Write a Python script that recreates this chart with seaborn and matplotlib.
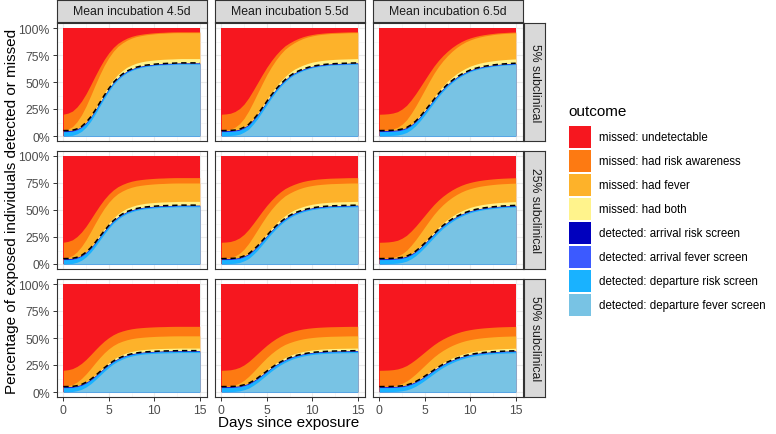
import numpy as np
import pandas as pd
import matplotlib
matplotlib.use("Agg")
import matplotlib.pyplot as plt
import seaborn as sns
from matplotlib.patches import Rectangle

sns.set_theme(style="white")
plt.rcParams["font.family"] = ["Liberation Sans", "DejaVu Sans"]

# ---------------- data ----------------
days = [i * 0.5 for i in range(31)]  # 0 .. 15 days since exposure

incubation_labels = ["Mean incubation 4.5d", "Mean incubation 5.5d", "Mean incubation 6.5d"]
subclinical_labels = ["5% subclinical", "25% subclinical", "50% subclinical"]

outcomes = [  # bottom -> top of stack
    "detected: departure fever screen",
    "detected: departure risk screen",
    "detected: arrival fever screen",
    "detected: arrival risk screen",
    "missed: had both",
    "missed: had fever",
    "missed: had risk awareness",
    "missed: undetectable",
]
colors = ["#78C3E4", "#19B2FF", "#3C5AFF", "#0000BE",
          "#FFF38C", "#FDB22A", "#FD7A12", "#F6171F"]

# share of the final rise reached by each day, detected outcomes
prog_detected_45 = [0, .001, .005, .025, .06, .12, .20, .30, .41, .52, .62, .71, .78, .835, .88, .91,
                    .935, .952, .965, .973, .98, .986, .99, .993, .995, .998, 1, 1, 1, 1, 1]
prog_detected_55 = [0, .001, .003, .008, .02, .05, .09, .16, .24, .335, .43, .525, .61, .685, .75, .805,
                    .85, .882, .91, .932, .95, .962, .972, .979, .985, .989, .992, .994, .996, .998, 1]
prog_detected_65 = [0, .001, .002, .005, .01, .023, .045, .085, .14, .21, .29, .375, .46, .545, .62, .685,
                    .74, .79, .83, .865, .895, .917, .935, .949, .96, .969, .977, .983, .988, .992, .995]
# share of the final rise reached by each day, missed outcomes
prog_missed_45 = [.003, .015, .04, .09, .16, .25, .355, .465, .57, .665, .745, .81, .86, .895, .923, .944,
                  .959, .969, .977, .983, .988, .992, .994, .997, .999, 1, 1, 1, 1, 1, 1]
prog_missed_55 = [.002, .006, .014, .035, .07, .125, .20, .29, .385, .48, .57, .65, .72, .78, .83, .866,
                  .896, .921, .941, .956, .967, .976, .982, .987, .991, .993, .995, .997, .999, 1, 1]
prog_missed_65 = [.002, .004, .008, .017, .033, .065, .11, .175, .25, .333, .418, .503, .583, .653, .713, .765,
                  .81, .848, .88, .906, .926, .942, .955, .965, .973, .98, .986, .99, .993, .996, .998]

# cumulative top (%) of each of the first 7 outcomes on day 0 (same in every panel)
top_day0 = [0.3, 4.0, 4.5, 5.0, 5.0, 5.0, 20.0]
# cumulative top (%) of each of the first 7 outcomes at the plateau, per subclinical row
top_plateau_5 = [66.5, 67.0, 67.4, 67.7, 71.7, 95.7, 96.5]
top_plateau_25 = [53.0, 53.8, 54.2, 54.5, 58.0, 75.0, 80.0]
top_plateau_50 = [36.5, 37.6, 38.0, 38.3, 40.7, 52.0, 60.8]

x_ticks = [0, 5, 10, 15]
y_ticks = [0, 25, 50, 75, 100]
y_ticklabels = ["0%", "25%", "50%", "75%", "100%"]

# ---------------- build long table ----------------
prog_det = [prog_detected_45, prog_detected_55, prog_detected_65]
prog_mis = [prog_missed_45, prog_missed_55, prog_missed_65]
plateaus = [top_plateau_5, top_plateau_25, top_plateau_50]
uses_missed_progress = [False, False, False, False, False, True, True]

rows = []
for r, sub in enumerate(subclinical_labels):
    for c, inc in enumerate(incubation_labels):
        for k in range(7):
            p = prog_mis[c] if uses_missed_progress[k] else prog_det[c]
            for i, d in enumerate(days):
                top = top_day0[k] + (plateaus[r][k] - top_day0[k]) * p[i]
                rows.append((sub, inc, outcomes[k], d, top))
        for d in days:
            rows.append((sub, inc, outcomes[7], d, 100.0))
df = pd.DataFrame(rows, columns=["subclinical", "incubation", "outcome", "day", "top"])

# ---------------- figure ----------------
W, H = 776, 435
fig = plt.figure(figsize=(W / 100, H / 100), dpi=100)


def px_rect(x, y, w, h):
    return [x / W, 1 - (y + h) / H, w / W, h / H]


col_x = [56.5, 214.5, 372.5]
pw = 150.0
row_y = [23.6, 151.6, 279.6]
ph = 118.8
dark = "#333333"

for r, sub in enumerate(subclinical_labels):
    for c, inc in enumerate(incubation_labels):
        ax = fig.add_axes(px_rect(col_x[c], row_y[r], pw, ph))
        ax.set_facecolor("white")
        sub_df = df[(df.subclinical == sub) & (df.incubation == inc)]
        # draw from top of stack downwards so adjacent bands never show seams
        for k in range(7, -1, -1):
            part = sub_df[sub_df.outcome == outcomes[k]]
            ax.fill_between(part["day"].values, 0, part["top"].values,
                            color=colors[k], linewidth=0, zorder=2)
        dashed = sub_df[sub_df.outcome == outcomes[3]]
        sns.lineplot(data=dashed, x="day", y="top", ax=ax, color="black",
                     linewidth=1.1, linestyle=(0, (3.5, 2.5)), zorder=3, legend=False)
        ax.set_xlim(-0.75, 15.75)
        ax.set_ylim(-5, 105)
        ax.set_xticks(x_ticks)
        ax.set_xticks([2.5, 7.5, 12.5], minor=True)
        ax.set_yticks(y_ticks)
        ax.set_yticks([12.5, 37.5, 62.5, 87.5], minor=True)
        ax.set_axisbelow(True)
        ax.grid(which="major", color="#EBEBEB", linewidth=0.8, zorder=0)
        ax.grid(which="minor", color="#F4F4F4", linewidth=0.5, zorder=0)
        for s in ax.spines.values():
            s.set_color(dark)
            s.set_linewidth(0.8)
        ax.tick_params(which="major", length=2.75, width=0.7, color=dark,
                       labelsize=8.8, labelcolor="#4D4D4D", pad=2)
        ax.tick_params(which="minor", length=0)
        ax.tick_params(axis="x", bottom=True)
        ax.tick_params(axis="y", left=True)
        if c == 0:
            ax.set_yticklabels(y_ticklabels)
        else:
            ax.tick_params(axis="y", left=False, labelleft=False)
        if r == 2:
            ax.set_xticklabels([str(t) for t in x_ticks])
        else:
            ax.tick_params(axis="x", bottom=False, labelbottom=False)
        ax.set_xlabel("")
        ax.set_ylabel("")

        # top strips
        if r == 0:
            sax = fig.add_axes(px_rect(col_x[c], 1.0, pw, 21.6))
            sax.set_facecolor("#D9D9D9")
            sax.set_xticks([]); sax.set_yticks([])
            for s in sax.spines.values():
                s.set_color(dark); s.set_linewidth(0.8)
            sax.text(0.5, 0.5, inc, ha="center", va="center", fontsize=8.8,
                     color="#1A1A1A", transform=sax.transAxes)
        # right strips
        if c == 2:
            sax = fig.add_axes(px_rect(col_x[c] + pw + 1.2, row_y[r], 21.6, ph))
            sax.set_facecolor("#D9D9D9")
            sax.set_xticks([]); sax.set_yticks([])
            for s in sax.spines.values():
                s.set_color(dark); s.set_linewidth(0.8)
            sax.text(0.5, 0.5, sub, ha="center", va="center", fontsize=8.8,
                     color="#1A1A1A", rotation=-90, transform=sax.transAxes)

# axis titles
fig.text(289 / W, 1 - 423 / H, "Days since exposure", ha="center", va="center",
         fontsize=11, color="black")
fig.text(12 / W, 1 - 211 / H, "Percentage of exposed individuals detected or missed",
         ha="center", va="center", rotation=90, fontsize=11, color="black")

# legend (top of legend = top of stack)
fig.text(568 / W, 1 - 112 / H, "outcome", ha="left", va="center", fontsize=11, color="black")
for i, k in enumerate(range(7, -1, -1)):
    y0 = 127 + 24 * i
    fig.patches.append(Rectangle((569 / W, 1 - (y0 + 22) / H), 22 / W, 22 / H,
                                 transform=fig.transFigure, facecolor=colors[k],
                                 edgecolor="none"))
    fig.text(599 / W, 1 - (y0 + 11) / H, outcomes[k], ha="left", va="center",
             fontsize=8.3, color="black")

fig.savefig("out.png", dpi=100)
